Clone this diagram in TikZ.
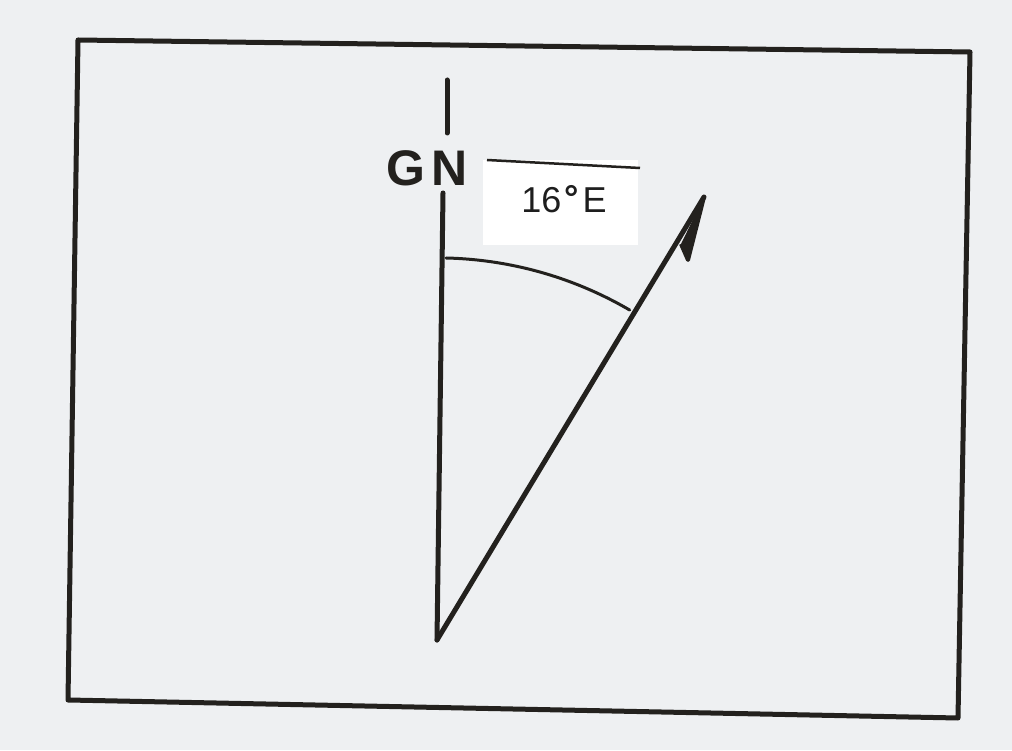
\documentclass[tikz,border=0pt]{standalone}
\usepackage{fontspec}
\setmainfont{Liberation Sans}
\begin{document}
\begin{tikzpicture}[x=1pt,y=1pt,
  ink/.style={draw={rgb,255:red,35;green,33;blue,30}, line width=5pt, line cap=round, line join=round},
  thinink/.style={draw={rgb,255:red,35;green,33;blue,30}, line width=3pt, line cap=round},
  lbl/.style={inner sep=0pt, font=\fontsize{36}{42}\selectfont, text={rgb,255:red,30;green,30;blue,30}},
  gn/.style={inner sep=0pt, font=\bfseries\fontsize{50}{60}\selectfont, text={rgb,255:red,35;green,33;blue,30}}]
\definecolor{paper}{RGB}{238,240,242}
\definecolor{inkc}{RGB}{35,33,30}
\fill[paper] (0,0) rectangle (1012,750);
\useasboundingbox (0,0) rectangle (1012,750);
% frame
\coordinate (tl) at (78,710);
\coordinate (tr) at (970,698);
\coordinate (br) at (958,32);
\coordinate (bl) at (68,50);
\draw[ink] (tl) -- (tr) -- (br) -- (bl) -- cycle;
% label box
\fill[white] (483,505) rectangle (638,590);
\coordinate (boxa) at (487,590);
\coordinate (boxb) at (640,582);
\draw[inkc, line width=2.5pt] (boxa) -- (boxb);
\node[lbl] (ang) at (564,551) {16\kern3pt\raisebox{2pt}{\bfseries °}\kern4pt E};
% north line
\coordinate (ntop) at (447,670);
\coordinate (nmid) at (447,617);
\coordinate (nlow) at (443,557);
\coordinate (O) at (437,110);
\draw[ink] (ntop) -- (nmid);
\draw[ink] (nlow) -- (O);
\node[gn] (GN) at (427,582) {G\kern6pt N};
% bearing line
\coordinate (tip) at (704,553);
\draw[ink] (O) -- (tip);
\coordinate (barb) at (688,490);
\coordinate (barbbase) at (681,506);
\fill[inkc] (tip) -- (barb) -- (barbbase) -- cycle;
\draw[inkc, line width=4pt, line join=round] (tip) -- (barb) -- (barbbase);
% arc
\coordinate (arcS) at (446,492);
\draw[thinink] (arcS) arc[start angle=88.65, end angle=59.7, radius=382];
\end{tikzpicture}
\end{document}
